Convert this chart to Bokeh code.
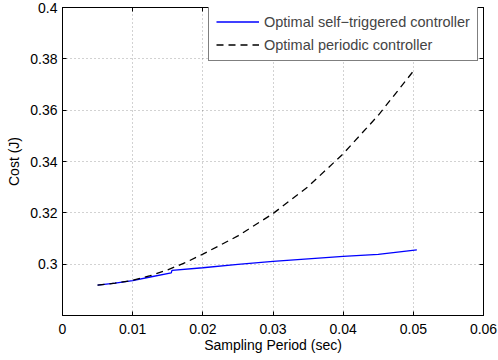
from bokeh.plotting import figure
from bokeh.models import LinearAxis, FixedTicker, Range1d, Legend, LegendItem, CustomLabelingPolicy
from bokeh.embed import file_html
from bokeh.resources import INLINE

# Sampling period (sec) and cost (J) for the two controllers
period = [0.005, 0.0075, 0.01, 0.0125, 0.0155, 0.0156, 0.02, 0.025, 0.03, 0.035, 0.04, 0.045, 0.0505]
cost_self_triggered = [0.2918, 0.2926, 0.2936, 0.2950, 0.2966, 0.2976, 0.2986, 0.2999, 0.3011, 0.3021, 0.3030, 0.3038, 0.3056]

period_periodic = [0.005, 0.0075, 0.01, 0.0125, 0.015, 0.0175, 0.02, 0.025, 0.03, 0.035, 0.04, 0.045, 0.05]
cost_periodic = [0.2918, 0.2926, 0.2937, 0.2955, 0.2978, 0.3006, 0.3039, 0.3110, 0.3197, 0.3302, 0.3430, 0.3580, 0.3752]

x_ticks = [0, 0.01, 0.02, 0.03, 0.04, 0.05, 0.06]
x_tick_labels = ["0", "0.01", "0.02", "0.03", "0.04", "0.05", "0.06"]
y_ticks = [0.3, 0.32, 0.34, 0.36, 0.38, 0.4]
y_tick_labels = ["0.3", "0.32", "0.34", "0.36", "0.38", "0.4"]

FONT = "Liberation Sans"
FS = "14px"

p = figure(width=498, height=360, output_backend="svg", toolbar_location=None,
           x_range=Range1d(0, 0.06), y_range=Range1d(0.28, 0.4),
           min_border_left=62, min_border_right=15, min_border_top=7, min_border_bottom=45)
p.background_fill_color = "white"
p.border_fill_color = "white"
p.outline_line_color = "black"
p.outline_line_width = 1

# hides tick labels on the mirrored box axes (top/right carry ticks only)
no_labels = CustomLabelingPolicy(code="""
    for (const i of indices) { indices.unset(i) }
    return indices
""")

def style_axis(ax, ticks, overrides, show_labels):
    ax.ticker = FixedTicker(ticks=ticks)
    ax.major_label_overrides = overrides
    ax.axis_line_color = "black"
    ax.major_tick_line_color = "black"
    ax.major_tick_in = 4
    ax.major_tick_out = 0
    ax.minor_tick_line_color = None
    ax.major_label_text_font = FONT
    ax.major_label_text_font_size = FS if show_labels else "1px"
    ax.major_label_text_color = "black"
    ax.axis_label_text_font = FONT
    ax.axis_label_text_font_size = FS
    ax.axis_label_text_font_style = "normal"
    ax.axis_label_text_color = "black"
    if not show_labels:
        ax.major_label_standoff = 0
        ax.major_label_policy = no_labels

x_over = {t: s for t, s in zip(x_ticks, x_tick_labels)}
y_over = {t: s for t, s in zip(y_ticks, y_tick_labels)}

style_axis(p.xaxis[0], x_ticks, x_over, True)
style_axis(p.yaxis[0], y_ticks, y_over, True)
p.xaxis[0].axis_label = "Sampling Period (sec)"
p.yaxis[0].axis_label = "Cost (J)"
p.xaxis[0].major_label_standoff = 8
p.xaxis[0].axis_label_standoff = 0
p.yaxis[0].major_label_standoff = 5
p.yaxis[0].axis_label_standoff = 5

top_ax = LinearAxis()
style_axis(top_ax, x_ticks, x_over, False)
p.add_layout(top_ax, "above")
right_ax = LinearAxis()
style_axis(right_ax, y_ticks, y_over, False)
p.add_layout(right_ax, "right")

for g in (p.xgrid[0], p.ygrid[0]):
    g.grid_line_color = "black"
    g.grid_line_alpha = 0.6
    g.grid_line_width = 0.6
    g.grid_line_dash = "1 3"
p.xgrid[0].ticker = FixedTicker(ticks=x_ticks[1:-1])
p.ygrid[0].ticker = FixedTicker(ticks=y_ticks[:-1])

r_self = p.line(period, cost_self_triggered, line_color="#0000ff", line_width=1.3)
r_per = p.line(period_periodic, cost_periodic, line_color="black", line_width=1.3, line_dash="7 5")

legend = Legend(items=[
    LegendItem(label="Optimal self\u2212triggered controller", renderers=[r_self]),
    LegendItem(label="Optimal periodic controller", renderers=[r_per]),
])
legend.location = (146, 254)
legend.margin = 0
legend.padding = 7
legend.spacing = 6
legend.label_height = 17
legend.glyph_height = 17
legend.glyph_width = 43
legend.label_standoff = 5
legend.label_text_font = FONT
legend.label_text_font_size = "14.5px"
legend.border_line_color = "black"
legend.border_line_width = 1
legend.background_fill_color = "white"
legend.background_fill_alpha = 1
p.add_layout(legend, "center")

with open("out.html", "w") as f:
    f.write(file_html(p, INLINE))
